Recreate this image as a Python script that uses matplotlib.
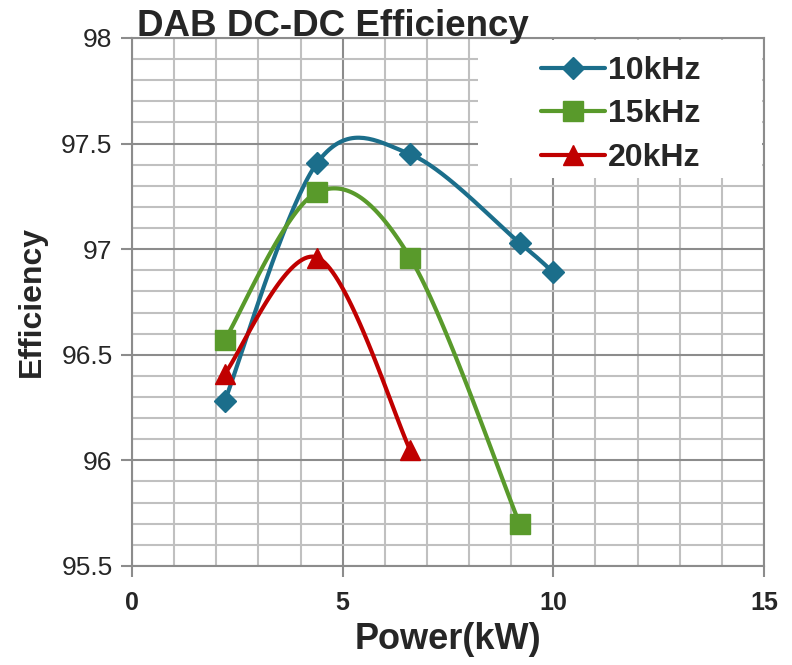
import numpy as np
import matplotlib.pyplot as plt
from matplotlib.ticker import MultipleLocator
from matplotlib.patches import Rectangle

plt.rcParams['font.family'] = ['Liberation Sans', 'DejaVu Sans']

power = [2.2, 4.4, 6.6, 9.2, 10.0]
eff_10k = [96.28, 97.41, 97.45, 97.03, 96.89]
power_15k = [2.2, 4.4, 6.6, 9.2]
eff_15k = [96.57, 97.27, 96.96, 95.70]
power_20k = [2.2, 4.4, 6.6]
eff_20k = [96.41, 96.96, 96.05]

labels = ['10kHz', '15kHz', '20kHz']
colors = ['#1b6e8b', '#599a2b', '#c00000']
markers = ['D', 's', '^']
msizes = [11, 14, 14]


# Excel-like smoothed line (bezier through the points)
def smooth(x, y, n=40):
    p = np.column_stack([x, y]).astype(float)
    m = len(p)
    out = []
    for i in range(m - 1):
        p0 = p[max(i - 1, 0)]
        p1 = p[i]
        p2 = p[i + 1]
        p3 = p[min(i + 2, m - 1)]
        c1 = p1 + (p2 - p0) / 6
        c2 = p2 - (p3 - p1) / 6
        t = np.linspace(0, 1, n)[:, None]
        seg = (1 - t)**3 * p1 + 3 * (1 - t)**2 * t * c1 + 3 * (1 - t) * t**2 * c2 + t**3 * p2
        out.append(seg)
    c = np.vstack(out)
    return c[:, 0], c[:, 1]


fig = plt.figure(figsize=(7.92, 6.65), dpi=100)
ax = fig.add_axes([0.1667, 0.1489, 0.7979, 0.794])

series = [(power, eff_10k), (power_15k, eff_15k), (power_20k, eff_20k)]
for (x, y), lab, c, mk, ms in zip(series, labels, colors, markers, msizes):
    sx, sy = smooth(x, y)
    ax.plot(sx, sy, color=c, lw=3, solid_capstyle='round', zorder=3)
    ax.plot(x, y, ls='none', marker=mk, ms=ms, color=c, zorder=4)
    ax.plot([], [], color=c, lw=3, marker=mk, ms=ms, label=lab, solid_capstyle='round')

ax.set_xlim(0, 15)
ax.set_ylim(95.5, 98)
ax.xaxis.set_major_locator(MultipleLocator(5))
ax.xaxis.set_minor_locator(MultipleLocator(1))
ax.yaxis.set_major_locator(MultipleLocator(0.5))
ax.yaxis.set_minor_locator(MultipleLocator(0.1))
ax.set_yticks([95.5, 96, 96.5, 97, 97.5, 98])
ax.set_yticklabels(['95.5', '96', '96.5', '97', '97.5', '98'])

ax.grid(which='major', color='#8c8c8c', lw=1.5)
ax.grid(which='minor', color='#c0c0c0', lw=1.5)
ax.set_axisbelow(True)
for s in ax.spines.values():
    s.set_color('#8c8c8c')
    s.set_linewidth(1.5)

ax.tick_params(which='major', length=8, width=1.5, color='#8c8c8c', pad=6)
ax.tick_params(which='minor', length=0)
ax.tick_params(axis='y', labelsize=19, labelcolor='#262626')
ax.tick_params(axis='x', labelsize=18, labelcolor='#262626', pad=10)
for t in ax.get_xticklabels():
    t.set_fontweight('bold')

ax.set_xlabel('Power(kW)', fontsize=26, fontweight='bold', color='#262626', labelpad=5)
ax.set_ylabel('Efficiency', fontsize=23, fontweight='bold', color='#262626', labelpad=10)
fig.text(0.173, 1 - 36 / 665, 'DAB DC-DC Efficiency', fontsize=26.5, fontweight='bold',
         color='#262626', ha='left', va='baseline')

# white legend area covering the grid
ax.add_patch(Rectangle((0.547, 0.735), 0.45, 0.262, transform=ax.transAxes,
                       facecolor='white', edgecolor='none', zorder=2))
leg = ax.legend(loc='upper left', bbox_to_anchor=(0.647, 0.966),
                prop={'weight': 'bold', 'size': 23}, frameon=False,
                handlelength=2.0, handletextpad=0.1, labelspacing=0.42,
                borderpad=0, borderaxespad=0)
for t in leg.get_texts():
    t.set_color('#262626')
leg.set_zorder(5)

fig.savefig('out.png', dpi=100)
